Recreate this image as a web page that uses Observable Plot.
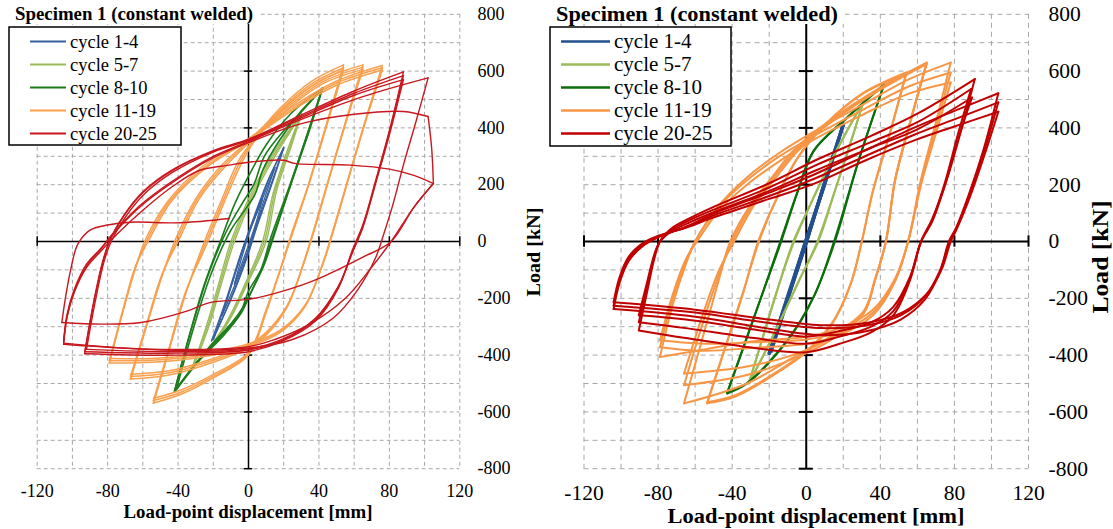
<!DOCTYPE html>
<html><head><meta charset="utf-8">
<script src="https://cdn.jsdelivr.net/npm/d3@7"></script>
<script src="https://cdn.jsdelivr.net/npm/@observablehq/plot@0.6"></script>
<style>
body{margin:0;background:#fff}
#wrap{position:relative;width:1113px;height:529px;overflow:hidden;font-family:'Liberation Serif','DejaVu Serif',serif}
#wrap svg{position:absolute;top:0}
#wrap svg text{font-family:'Liberation Serif','DejaVu Serif',serif !important}
</style></head><body><div id="wrap"></div><script>
// ---------- shared labels / ticks ----------
const chartTitle = "Specimen 1 (constant welded)";
const xTitle = "Load-point displacement [mm]";
const yTitle = "Load [kN]";
const seriesNames = ["cycle 1-4","cycle 5-7","cycle 8-10","cycle 11-19","cycle 20-25"];
const xTickLabels = [-120,-80,-40,0,40,80,120];
const yTickLabels = [-800,-600,-400,-200,0,200,400,600,800];
const xAxisMarks = [-120,-80,-40,40,80,120];
const yAxisMarks = [-800,-600,-400,-200,200,400,600,800];
const gridX = [-120,-100,-80,-60,-40,-20,0,20,40,60,80,100,120];
const gridY = [-800,-700,-600,-500,-400,-300,-200,-100,0,100,200,300,400,500,600,700,800];

// ---------- LEFT panel (branches of hysteresis loops: [displacement mm, load kN]) ----------
const L_cyc1_4 = [
 [[-8,-150],[-4,-60],[1,40],[8,150]],
 [[8,150],[4,60],[-1,-30],[-8,-150]],
 [[-15,-260],[-9,-140],[-3,-20],[4,90],[15,260]],
 [[15,260],[8,130],[2,10],[-5,-110],[-15,-260]],
 [[-20,-345],[-12,-200],[-4,-45],[4,95],[12,225],[20,332]],
 [[20,332],[13,205],[4,45],[-2,-70],[-11,-215],[-20,-345]],
 [[-21,-350],[-13,-210],[-5,-55],[3,85],[11,215],[20,328]],
 [[20,328],[14,215],[5,55],[-1,-60],[-10,-205],[-21,-350]]
];
const L_cyc5_7 = [
 [[-32,-445],[-24,-300],[-17,-150],[-10,0],[0,150],[13,300],[30,452]],
 [[30,452],[22,320],[14,170],[8,0],[-2,-150],[-15,-310],[-32,-445]],
 [[-32,-442],[-23,-295],[-16,-145],[-9,0],[1,150],[14,300],[30,449]],
 [[30,449],[23,325],[15,175],[9,0],[-1,-145],[-14,-305],[-32,-442]],
 [[-31,-438],[-22,-290],[-15,-140],[-8,0],[2,150],[15,300],[30,446]],
 [[30,446],[24,330],[16,180],[10,0],[0,-140],[-13,-300],[-31,-438]]
];
const L_cyc8_10 = [
 [[-42,-527],[-34,-340],[-25,-150],[-16,0],[-8,130],[0,230],[10,340],[24,450],[42,540]],
 [[42,540],[33,370],[23,190],[13,20],[7,-100],[0,-175],[-5,-255],[-18,-350],[-30,-430],[-42,-527]],
 [[-42,-527],[-33,-320],[-23,-120],[-13,30],[-3,140],[3,200],[9,300],[20,390],[32,470],[42,540]],
 [[42,540],[34,390],[25,220],[15,30],[9,-80],[3,-160],[-3,-230],[-10,-290],[-22,-370],[-42,-527]],
 [[-41,-522],[-31,-300],[-21,-110],[-10,40],[-1,120],[4,170],[8,250],[18,360],[30,460],[42,538]],
 [[42,538],[34,380],[24,200],[14,20],[8,-90],[2,-170],[-4,-250],[-14,-330],[-28,-420],[-41,-522]]
];
const L_cyc11_19 = [
 [[-54,-569],[-45,-380],[-36,-190],[-25,0],[-15,150],[-6,280],[3,360],[18,470],[36,565],[54,622]],
 [[54,622],[45,430],[34,200],[24,20],[18,-100],[10,-250],[0,-400],[-20,-480],[-38,-537],[-54,-569]],
 [[-54,-569],[-45,-378],[-36,-186],[-24,0],[-14,150],[-5,278],[3,355],[18,462],[36,556],[54,612]],
 [[54,612],[45,425],[34,198],[24,15],[18,-100],[10,-245],[0,-395],[-20,-474],[-38,-530],[-54,-560]],
 [[-54,-560],[-45,-372],[-36,-182],[-23,0],[-13,150],[-4,275],[3,350],[18,455],[36,548],[54,604]],
 [[54,604],[45,420],[34,195],[24,10],[18,-100],[10,-240],[0,-390],[-20,-468],[-38,-522],[-54,-552]],
 [[-67,-484],[-58,-300],[-49,-120],[-42,0],[-30,150],[-15,270],[0,355],[20,470],[42,570],[65,622]],
 [[65,622],[56,440],[46,230],[37,40],[31,-80],[22,-230],[10,-330],[0,-375],[-20,-425],[-45,-470],[-67,-484]],
 [[-67,-484],[-58,-298],[-49,-118],[-41,0],[-29,150],[-14,268],[0,350],[20,462],[42,562],[65,614]],
 [[65,614],[56,436],[46,228],[37,36],[31,-82],[22,-228],[10,-325],[0,-370],[-20,-418],[-45,-462],[-67,-475]],
 [[-67,-475],[-58,-292],[-49,-114],[-40,0],[-28,150],[-13,265],[0,346],[20,455],[42,555],[65,606]],
 [[65,606],[56,432],[46,225],[37,32],[31,-84],[22,-225],[10,-320],[0,-365],[-20,-412],[-45,-455],[-67,-467]],
 [[-79,-428],[-71,-240],[-64,-90],[-59,0],[-46,140],[-26,265],[0,362],[25,475],[50,565],[76,620]],
 [[76,620],[67,440],[57,230],[48,40],[42,-80],[32,-230],[18,-320],[0,-370],[-30,-410],[-55,-425],[-79,-428]],
 [[-79,-428],[-71,-238],[-64,-88],[-58,0],[-45,140],[-25,262],[0,358],[25,468],[50,558],[76,612]],
 [[76,612],[67,436],[57,228],[48,36],[42,-82],[32,-228],[18,-316],[0,-365],[-30,-404],[-55,-418],[-79,-420]],
 [[-79,-420],[-71,-232],[-64,-84],[-57,0],[-44,140],[-24,260],[0,355],[25,462],[50,550],[76,604]],
 [[76,604],[67,432],[57,225],[48,32],[42,-84],[32,-225],[18,-312],[0,-360],[-30,-398],[-55,-412],[-79,-412]]
];
const L_cyc20_25 = [
 [[-93,-395],[-88,-220],[-83,-80],[-79,0],[-71,90],[-60,175],[-44,250],[-20,320],[0,360],[28,440],[60,530],[88,597]],
 [[88,597],[80,390],[72,210],[65,60],[59,-30],[51,-165],[38,-280],[19,-352],[0,-388],[-40,-400],[-93,-395]],
 [[-93,-388],[-88,-215],[-83,-75],[-79,0],[-71,88],[-60,172],[-44,247],[-20,318],[0,358],[28,435],[60,522],[88,584]],
 [[88,584],[80,385],[72,205],[65,55],[59,-35],[51,-160],[38,-275],[19,-348],[0,-382],[-40,-393],[-93,-388]],
 [[-92,-380],[-87,-210],[-82,-70],[-78,0],[-70,85],[-59,168],[-43,244],[-20,315],[0,356],[28,430],[60,515],[88,570]],
 [[88,570],[80,375],[72,200],[65,50],[59,-40],[51,-158],[38,-270],[19,-345],[0,-378],[-40,-388],[-92,-380]],
 [[-105,-350],[-103,-255],[-99,-170],[-92,-80],[-84,-25],[-76,35],[-62,125],[-45,205],[-20,300],[0,352],[30,430],[65,510],[102,576]],
 [[102,576],[95,420],[88,270],[82,130],[77,30],[72,-60],[62,-170],[48,-270],[25,-345],[0,-375],[-50,-382],[-105,-358]],
 [[-105,-358],[-103,-262],[-99,-176],[-92,-86],[-84,-28],[-76,32],[-62,120],[-45,200],[-20,295],[0,348],[30,415],[60,448],[88,458],[102,440]],
 [[102,440],[104,330],[105,204]],
 [[105,204],[94,121],[81,0],[70,-90],[55,-200],[35,-290],[15,-345],[0,-370],[-50,-380],[-105,-362]],
 [[-105,-362],[-103,-265],[-99,-180],[-92,-92],[-84,-35],[-74,30],[-60,110],[-44,190],[-28,250],[-11,269],[1,280],[20,286],[26,275],[58,269],[80,255],[94,233],[105,204]],
 [[105,204],[94,121],[81,0],[65,-55],[37,-138],[20,-174],[1,-203],[-22,-215],[-35,-245],[-61,-285],[-84,-291],[-106,-285]],
 [[-106,-285],[-104,-200],[-101,-100],[-97,-10],[-90,40],[-80,58],[-67,68],[-39,66],[-11,81]]
];

// ---------- RIGHT panel ----------
const R_cyc1_4 = [
 [[-20,-395],[-10,-195],[0,5],[10,210],[20,414]],
 [[20,414],[10,205],[0,-5],[-10,-200],[-20,-395]],
 [[-19,-388],[-9,-185],[1,15],[10,212],[20,410]],
 [[20,410],[10,200],[-1,-10],[-10,-205],[-19,-388]],
 [[-20,-392],[-10,-190],[0,8],[10,208],[20,412]],
 [[20,412],[10,203],[0,-2],[-10,-198],[-20,-392]]
];
const R_cyc5_7 = [
 [[-31,-500],[-24,-350],[-16,-180],[-7,0],[3,140],[14,290],[23,400],[31,496]],
 [[31,496],[24,350],[15,170],[6,0],[-4,-140],[-14,-280],[-23,-400],[-31,-500]],
 [[-31,-498],[-24,-348],[-16,-176],[-6.5,0],[3,142],[14,292],[23,402],[31,494]],
 [[31,494],[24,348],[15,168],[6.5,0],[-4,-138],[-14,-278],[-23,-398],[-31,-498]]
];
const R_cyc8_10 = [
 [[-42.7,-535],[-28,-265],[-14,0],[-5,170],[4,320],[22,437],[42,554]],
 [[42,554],[28,280],[15,0],[4,-196],[-10,-348],[-32,-500],[-42.7,-535]],
 [[-42.7,-532],[-28,-262],[-13.5,0],[-5,168],[4,318],[22,435],[42,552]],
 [[42,552],[28,278],[15.5,0],[4,-194],[-10,-345],[-32,-498],[-42.7,-532]]
];
const R_cyc11_19 = [
 [[-53.5,-570],[-44,-380],[-34,-180],[-26,0],[-16,150],[-5,290],[10,410],[30,520],[54,595]],
 [[54,595],[45,380],[36,180],[30,0],[24,-150],[14,-290],[0,-390],[-20,-480],[-38,-545],[-53.5,-570]],
 [[-53.5,-566],[-44,-376],[-34,-176],[-25.5,0],[-16,152],[-5,292],[10,410],[30,518],[54,590]],
 [[54,590],[45,376],[36,176],[30,0],[24,-148],[14,-286],[0,-386],[-20,-476],[-38,-540],[-53.5,-566]],
 [[-66,-570],[-56,-340],[-47,-130],[-41,0],[-30,130],[-18,230],[-7,320],[15,437],[40,542],[65,630]],
 [[65,630],[56,420],[48,220],[43,0],[37,-140],[31,-254],[13,-348],[-5,-407],[-32,-470],[-66,-506]],
 [[-66,-506],[-56,-290],[-47,-115],[-40,0],[-29,130],[-17,230],[-6,318],[15,432],[40,538],[65,628]],
 [[65,628],[56,418],[48,218],[43,0],[37,-138],[31,-250],[13,-340],[-5,-395],[-32,-440],[-66,-465]],
 [[-66,-465],[-56,-260],[-47,-100],[-39,0],[-28,130],[-16,228],[-5,316],[15,428],[40,535],[65,625]],
 [[65,625],[56,415],[48,215],[43,0],[37,-135],[31,-245],[13,-335],[-5,-400],[-32,-500],[-66,-570]],
 [[-79,-407],[-72,-220],[-65,-80],[-60,0],[-48,120],[-33,220],[-15,310],[5,390],[30,480],[55,570],[78,630]],
 [[78,630],[70,420],[62,220],[55,0],[48,-140],[36,-260],[18,-330],[0,-360],[-30,-375],[-55,-385],[-79,-372]],
 [[-79,-372],[-72,-200],[-65,-70],[-60,0],[-48,115],[-33,210],[-15,298],[5,375],[30,462],[55,545],[78,595]],
 [[78,595],[70,400],[62,210],[55,0],[48,-135],[36,-250],[18,-318],[0,-345],[-30,-355],[-55,-360],[-79,-348]],
 [[-79,-348],[-72,-185],[-65,-62],[-59,0],[-47,110],[-32,200],[-14,285],[5,362],[30,445],[55,520],[78,560]],
 [[78,560],[70,380],[62,200],[55,0],[48,-130],[36,-240],[18,-305],[0,-335],[-30,-352],[-55,-380],[-79,-407]]
];
const R_cyc20_25 = [
 [[-90.4,-313],[-86,-180],[-82,-60],[-79,0],[-73,45],[-62,85],[-50,122],[-20,205],[5,286],[35,372],[60,450],[91,572]],
 [[91,572],[84,400],[76,220],[68,80],[62,0],[56,-137],[47,-260],[35,-320],[18,-360],[0,-390],[-28,-375],[-65,-340],[-90.4,-313]],
 [[-90.4,-284],[-86,-160],[-82,-50],[-79,0],[-73,40],[-62,78],[-50,112],[-20,190],[5,268],[35,350],[60,420],[89,537]],
 [[89,537],[82,380],[75,210],[68,75],[62,0],[56,-130],[47,-245],[35,-300],[18,-335],[0,-360],[-28,-340],[-65,-305],[-90.4,-284]],
 [[-90.4,-260],[-86,-145],[-82,-45],[-79,0],[-73,35],[-62,70],[-50,103],[-20,178],[5,250],[35,330],[60,395],[89.5,507]],
 [[89.5,507],[82,360],[75,200],[68,70],[62,0],[56,-125],[47,-230],[35,-285],[18,-315],[0,-335],[-28,-310],[-65,-275],[-90.4,-260]],
 [[-104,-238],[-101,-150],[-96,-70],[-88,-15],[-78,20],[-65,52],[-50,98],[-20,172],[4,235],[30,315],[58,400],[80,460],[103.7,522]],
 [[103.7,522],[96,330],[88,170],[81,50],[77,0],[72,-110],[64,-205],[51,-275],[33,-315],[8,-330],[-22,-305],[-60,-265],[-104,-238]],
 [[-104,-226],[-101,-140],[-96,-62],[-88,-10],[-78,22],[-65,50],[-50,92],[-20,160],[4,220],[30,295],[58,375],[80,430],[103.7,490]],
 [[103.7,490],[96,315],[88,160],[81,45],[77.5,0],[72,-105],[64,-195],[51,-260],[33,-295],[8,-305],[-22,-285],[-60,-250],[-104,-226]],
 [[-104,-214],[-101,-130],[-96,-55],[-88,-5],[-78,24],[-65,48],[-50,85],[-20,150],[4,203],[30,280],[58,355],[80,405],[103.7,457]],
 [[103.7,457],[96,300],[88,150],[81,40],[78,0],[73,-100],[65,-185],[52,-250],[34,-285],[10,-295],[-20,-275],[-60,-240],[-104,-214]]
];

const leftGroups = [L_cyc1_4, L_cyc5_7, L_cyc8_10, L_cyc11_19, L_cyc20_25];
const rightGroups = [R_cyc1_4, R_cyc5_7, R_cyc8_10, R_cyc11_19, R_cyc20_25];
const leftColors = ["#36609E","#9BBB59","#1C7C1C","#F9A04F","#C8171E"];
const rightColors = ["#23508C","#9BBB59","#0B6E0B","#F79646","#C00000"];

const SERIF = "'Liberation Serif','DejaVu Serif',serif";
function toRows(branches){ return branches.flatMap((b,i)=>b.map(([x,y])=>({x,y,b:i}))); }

function panel(c){
  const svg = Plot.plot({
    width:c.width, height:529,
    marginLeft:c.mL, marginRight:c.mR, marginTop:13.8, marginBottom:60.8,
    x:{domain:[-120,120]}, y:{domain:[-800,800]},
    style:{fontFamily:SERIF, fontSize:c.fs+"px", background:"transparent", color:"#000", overflow:"visible"},
    marks:[
      Plot.ruleX(gridX,{stroke:"#a8a8a8",strokeWidth:1,strokeDasharray:c.dash}),
      Plot.ruleY(gridY,{stroke:"#a8a8a8",strokeWidth:1,strokeDasharray:c.dash}),
      Plot.ruleY([0],{stroke:"#000",strokeWidth:c.axW}),
      Plot.ruleX([0],{stroke:"#000",strokeWidth:c.axW}),
      Plot.ruleX(xAxisMarks,{y1:-c.tx,y2:c.tx,stroke:"#000",strokeWidth:c.axW}),
      Plot.ruleY(yAxisMarks,{x1:-c.ty,x2:c.ty,stroke:"#000",strokeWidth:c.axW}),
      ...c.groups.map((g,i)=>Plot.line(toRows(g),{x:"x",y:"y",z:"b",stroke:c.colors[i],strokeWidth:c.lw[i],curve:"catmull-rom"})),
      Plot.axisX({ticks:xTickLabels,tickSize:0,tickPadding:c.xpad,tickFormat:d=>String(d),label:null,fontFamily:SERIF,fontSize:c.fs}),
      Plot.axisY({anchor:"right",ticks:yTickLabels,tickSize:0,tickPadding:c.ypad,tickFormat:d=>String(d),label:null,fontFamily:SERIF,fontSize:c.fs})
    ]
  });
  svg.style.left = c.left+"px";
  return svg;
}

const wrap = document.getElementById("wrap");
wrap.append(panel({left:0,width:556,mL:36.7,mR:96.7,fs:18,dash:"4,3",axW:1.5,tx:17,ty:2.4,xpad:16,ypad:17.7,groups:leftGroups,colors:leftColors,lw:[1.3,1.4,1.6,1.5,1.4]}));
wrap.append(panel({left:556,width:557,mL:27.5,mR:85,fs:21.5,dash:"5,4",axW:2,tx:20,ty:3.8,xpad:16,ypad:20,groups:rightGroups,colors:rightColors,lw:[3,2,2,2,2]}));

// ---------- overlay: titles, legends, axis titles ----------
const ov = d3.create("svg").attr("width",1113).attr("height",529).style("left","0px")
  .attr("font-family",SERIF);
function titleBlock(x0,w,tx,base,fs,len){
  ov.append("rect").attr("x",x0).attr("y",0).attr("width",w).attr("height",24).attr("fill","#fff");
  ov.append("text").attr("x",tx).attr("y",base).attr("font-size",fs).attr("font-weight","bold")
    .attr("textLength",len).attr("lengthAdjust","spacingAndGlyphs").text(chartTitle);
}
titleBlock(0,260,15,20,18.5,238);
titleBlock(550,295,556,20.7,22,282);

function legend(x,y,w,h,lx1,lx2,tx,fs,lw,colors){
  ov.append("rect").attr("x",x).attr("y",y).attr("width",w).attr("height",h).attr("fill","#fff").attr("stroke","#000").attr("stroke-width",1.5);
  seriesNames.forEach((n,i)=>{
    const cy = 41.5 + 23*i;
    ov.append("line").attr("x1",lx1).attr("x2",lx2).attr("y1",cy).attr("y2",cy).attr("stroke",colors[i]).attr("stroke-width",lw);
    ov.append("text").attr("x",tx).attr("y",cy+ fs*0.33).attr("font-size",fs).text(n);
  });
}
legend(9,27,172,118,30,66,70,18.5,2,leftColors);
legend(550,27,181,119,561,610,614,21,2.5,rightColors);

function axisTitles(xc,xb,xfs,xlen,yx,yc,yfs,ylen){
  ov.append("text").attr("x",xc).attr("y",xb).attr("text-anchor","middle").attr("font-size",xfs).attr("font-weight","bold")
    .attr("textLength",xlen).attr("lengthAdjust","spacingAndGlyphs").text(xTitle);
  ov.append("text").attr("transform",`translate(${yx},${yc}) rotate(-90)`).attr("text-anchor","middle").attr("font-size",yfs).attr("font-weight","bold")
    .attr("textLength",ylen).attr("lengthAdjust","spacingAndGlyphs").text(yTitle);
}
axisTitles(248,518,18,249,539.5,252,19.5,89);
axisTitles(816,523,21,297,1108,257,24,113);

wrap.append(ov.node());
</script></body></html>
